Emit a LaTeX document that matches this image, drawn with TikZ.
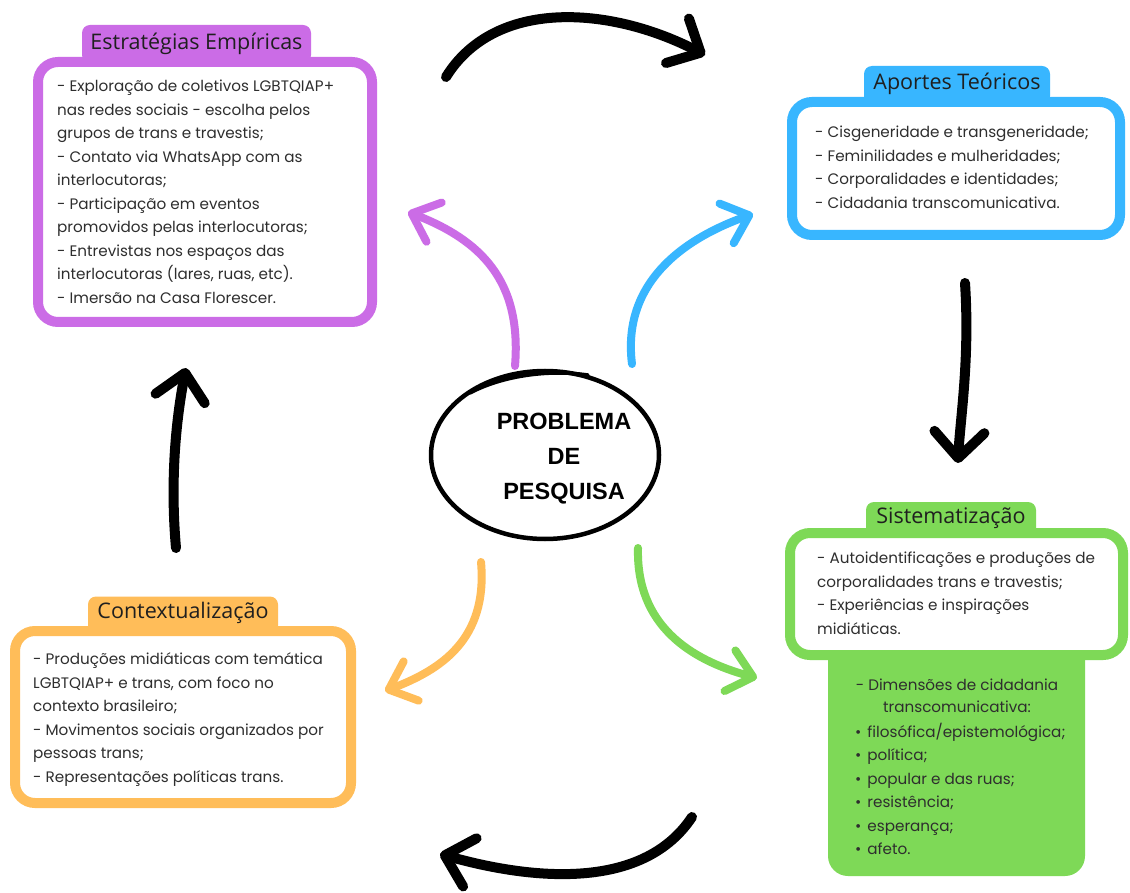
\documentclass[tikz,border=0pt]{standalone}
\usepackage{fontspec}
\setmainfont{Poppins}
\newfontfamily\hdfont{Open Sans}
\newfontfamily\ttlfont{Liberation Sans}
\usetikzlibrary{arrows.meta,shapes.geometric}
\definecolor{cpurple}{HTML}{CB6CE6}
\definecolor{cblue}{HTML}{38B6FF}
\definecolor{cgreen}{HTML}{7ED957}
\definecolor{corange}{HTML}{FFBD59}
\definecolor{ctext}{HTML}{2E2E2E}
\tikzset{
  box/.style={draw=#1, line width=10pt, fill=white, rounded corners=20pt, inner sep=0pt},
  tab/.style={fill=#1, rounded corners=8pt, inner sep=0pt},
  tabtext/.style={inner sep=0pt, font=\hdfont\fontsize{21.5}{24}\selectfont, text=black!88},
  body/.style={anchor=north west, inner sep=0pt, align=left, text=ctext, font=\fontsize{15.2}{23.5}\selectfont},
  bigarrow/.style={line width=10pt, line cap=round, -{Straight Barb[length=26pt,width=50pt,round]}},
  colarrow/.style={draw=#1, line width=8pt, line cap=round, -{Straight Barb[length=24pt,width=42pt,round]}}
}
\begin{document}
\begin{tikzpicture}[x=1pt,y=-1pt]
\useasboundingbox (0,0) rectangle (1130,893);
\fill[white] (0,0) rectangle (1130,893);

% ---- Estratégias Empíricas (purple)
\node[tab=cpurple, minimum width=229pt, minimum height=38pt] (empTab) at (196.5,44) {};
\node[box=cpurple, minimum width=334pt, minimum height=260pt] (emp) at (205,192) {};
\node[tabtext] (empTitle) at (196.5,44) {Estratégias Empíricas};
\node[body] (empText) at (57,75) {\strut - Exploração de coletivos LGBTQIAP+\\
nas redes sociais - escolha pelos\\
grupos de trans e travestis;\\
- Contato via WhatsApp com as\\
interlocutoras;\\
- Participação em eventos\\
promovidos pelas interlocutoras;\\
- Entrevistas nos espaços das\\
interlocutoras (lares, ruas, etc).\\
- Imersão na Casa Florescer.};

% ---- Aportes Teóricos (blue)
\node[tab=cblue, minimum width=186pt, minimum height=38pt] (apoTab) at (957,85) {};
\node[box=cblue, minimum width=328pt, minimum height=133pt] (apo) at (956,168.5) {};
\node[tabtext] (apoTitle) at (957,84) {Aportes Teóricos};
\node[body] (apoText) at (815,121) {\strut - Cisgeneridade e transgeneridade;\\
- Feminilidades e mulheridades;\\
- Corporalidades e identidades;\\
- Cidadania transcomunicativa.};

% ---- Sistematização (green)
\node[fill=cgreen, rounded corners=20pt, minimum width=257pt, minimum height=236pt, inner sep=0pt] (dim) at (956.5,758) {};
\node[tab=cgreen, minimum width=170pt, minimum height=36pt] (sisTab) at (951,520) {};
\node[box=cgreen, minimum width=333pt, minimum height=122pt] (sis) at (956.5,594) {};
\node[tabtext] (sisTitle) at (951,518) {Sistematização};
\node[body] (sisText) at (817,547) {\strut - Autoidentificações e produções de\\
corporalidades trans e travestis;\\
- Experiências e inspirações\\
midiáticas.};
\node[anchor=north, inner sep=0pt, align=center, text=ctext, font=\fontsize{15.2}{21.5}\selectfont] (dimHead) at (957,675.5) {\strut - Dimensões de cidadania\\ transcomunicativa:};
\node[body] (dimList) at (855,720.5) {\strut •\hspace{6pt}filosófica/epistemológica;\\
•\hspace{6pt}política;\\
•\hspace{6pt}popular e das ruas;\\
•\hspace{6pt}resistência;\\
•\hspace{6pt}esperança;\\
•\hspace{6pt}afeto.};

% ---- Contextualização (orange)
\node[tab=corange, minimum width=190pt, minimum height=37pt] (conTab) at (183,615) {};
\node[box=corange, minimum width=336pt, minimum height=172pt] (con) at (183,717) {};
\node[tabtext] (conTitle) at (183,613) {Contextualização};
\node[body] (conText) at (33,648) {\strut - Produções midiáticas com temática\\
LGBTQIAP+ e trans, com foco no\\
contexto brasileiro;\\
- Movimentos sociais organizados por\\
pessoas trans;\\
- Representações políticas trans.};

% ---- Central problem
\node[draw=black, ellipse, line width=4.5pt, minimum width=228pt, minimum height=168pt] (prob) at (545,455) {};
\node[align=center, inner sep=0pt, font=\ttlfont\bfseries\fontsize{23.5}{35}\selectfont] (probText) at (564,459) {PROBLEMA\\DE\\PESQUISA};
\draw[line width=3.5pt, line cap=round] (470,393) coordinate (sk1)
   .. controls (500,377) and (545,369) .. (588,375) coordinate (sk2);

% ---- arrow end points
\coordinate (a1s) at (446,77);   \coordinate (a1e) at (705,55);
\coordinate (a2s) at (965,283);  \coordinate (a2e) at (958,463);
\coordinate (a3s) at (692,817);  \coordinate (a3e) at (440,854);
\coordinate (a4s) at (176,548);  \coordinate (a4e) at (186,368);
\coordinate (pps) at (515,366);  \coordinate (ppe) at (408,212);
\coordinate (bbs) at (632,364);  \coordinate (bbe) at (753,214);
\coordinate (oos) at (481,562);  \coordinate (ooe) at (385,691);
\coordinate (ggs) at (638,548);  \coordinate (gge) at (757,678);

% black cycle arrows
\draw[bigarrow] (a1s) .. controls (495,-2) and (610,6) .. (a1e);
\draw[bigarrow] (a2s) .. controls (970,360) and (960,420) .. (a2e);
\draw[bigarrow] (a3s) .. controls (645,888) and (540,882) .. (a3e);
\draw[bigarrow] (a4s) .. controls (170,480) and (176,420) .. (a4e);

% coloured arrows from the problem
\draw[colarrow=cpurple] (pps) .. controls (522,280) and (480,240) .. (ppe);
\draw[colarrow=cblue] (bbs) .. controls (622,285) and (680,240) .. (bbe);
\draw[colarrow=corange] (oos) .. controls (488,640) and (440,670) .. (ooe);
\draw[colarrow=cgreen] (ggs) .. controls (636,625) and (690,660) .. (gge);
\end{tikzpicture}
\end{document}
